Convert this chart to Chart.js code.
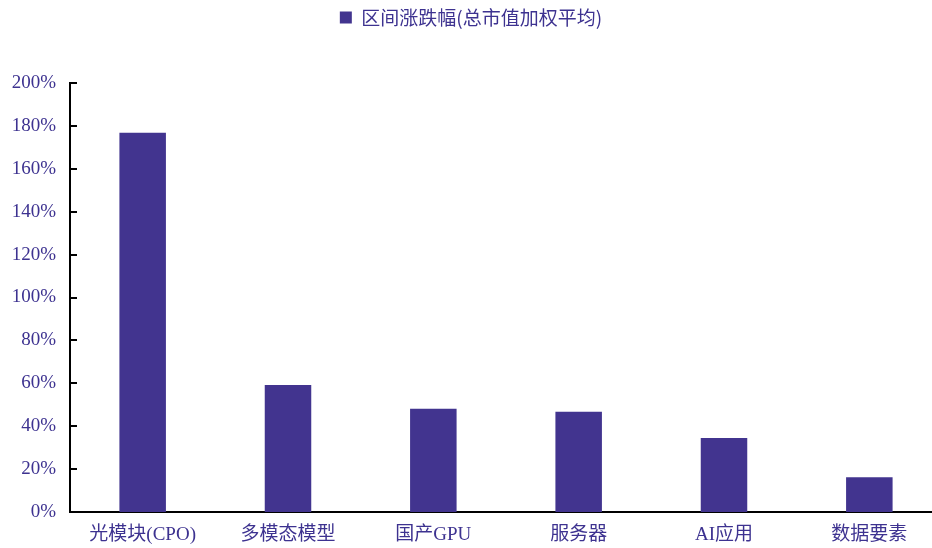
<!DOCTYPE html>
<html>
<head>
<meta charset="utf-8">
<script src="https://cdn.jsdelivr.net/npm/chart.js@4"></script>
<style>
html,body{margin:0;padding:0;background:#fff;overflow:hidden;}
#wrap{width:942px;height:548px;}
</style>
</head>
<body>
<div id="wrap"><canvas id="c" width="942" height="548"></canvas></div>
<script>
const categories = ['光模块(CPO)', '多模态模型', '国产GPU', '服务器', 'AI应用', '数据要素'];
const seriesName = '区间涨跌幅(总市值加权平均)';
const values = [176.8, 59.2, 48.1, 46.7, 34.5, 16.2];
const yTicks = [0, 20, 40, 60, 80, 100, 120, 140, 160, 180, 200];

const TXT = '#3D3290';
const BAR = '#42348F';
const FONT = "'Liberation Serif', 'Noto Sans CJK SC', serif";

const legendMargin = {
  id: 'legendMargin',
  beforeInit(chart) {
    const orig = chart.legend.fit;
    chart.legend.fit = function () {
      orig.bind(chart.legend)();
      this.height += 46;
    };
  }
};

const innerTicks = {
  id: 'innerTicks',
  afterDraw(chart) {
    const y = chart.scales.y;
    const ctx = chart.ctx;
    ctx.save();
    ctx.strokeStyle = '#000';
    ctx.lineWidth = 2;
    yTicks.forEach(v => {
      const py = Math.round(y.getPixelForValue(v));
      ctx.beginPath();
      ctx.moveTo(y.right, py);
      ctx.lineTo(y.right + 7, py);
      ctx.stroke();
    });
    ctx.restore();
  }
};

new Chart(document.getElementById('c'), {
  type: 'bar',
  data: {
    labels: categories,
    datasets: [{
      label: seriesName,
      data: values,
      backgroundColor: BAR,
      borderWidth: 0,
      barPercentage: 0.32,
      categoryPercentage: 1.0
    }]
  },
  options: {
    responsive: false,
    animation: false,
    devicePixelRatio: 1,
    layout: { padding: { left: 0, right: 0, top: 0, bottom: 0 } },
    plugins: {
      legend: {
        display: true,
        position: 'top',
        labels: {
          color: TXT,
          font: { family: "'Noto Sans CJK SC', sans-serif", size: 19 },
          boxWidth: 12,
          boxHeight: 12,
          padding: 8
        }
      },
      tooltip: { enabled: false }
    },
    scales: {
      x: {
        afterFit(scale) { scale.height = 36; },
        grid: { display: false, drawTicks: false },
        border: { display: true, color: '#000', width: 2 },
        ticks: {
          color: TXT,
          font: { family: FONT, size: 19 },
          padding: 12
        }
      },
      y: {
        min: 0,
        max: 200,
        afterFit(scale) { scale.width = 70; },
        afterBuildTicks(scale) { scale.ticks = yTicks.map(v => ({ value: v })); },
        grid: { display: false, drawTicks: false },
        border: { display: true, color: '#000', width: 2 },
        ticks: {
          color: TXT,
          font: { family: FONT, size: 19 },
          padding: 14,
          callback: v => v + '%'
        }
      }
    }
  },
  plugins: [legendMargin, innerTicks]
});
</script>
</body>
</html>
